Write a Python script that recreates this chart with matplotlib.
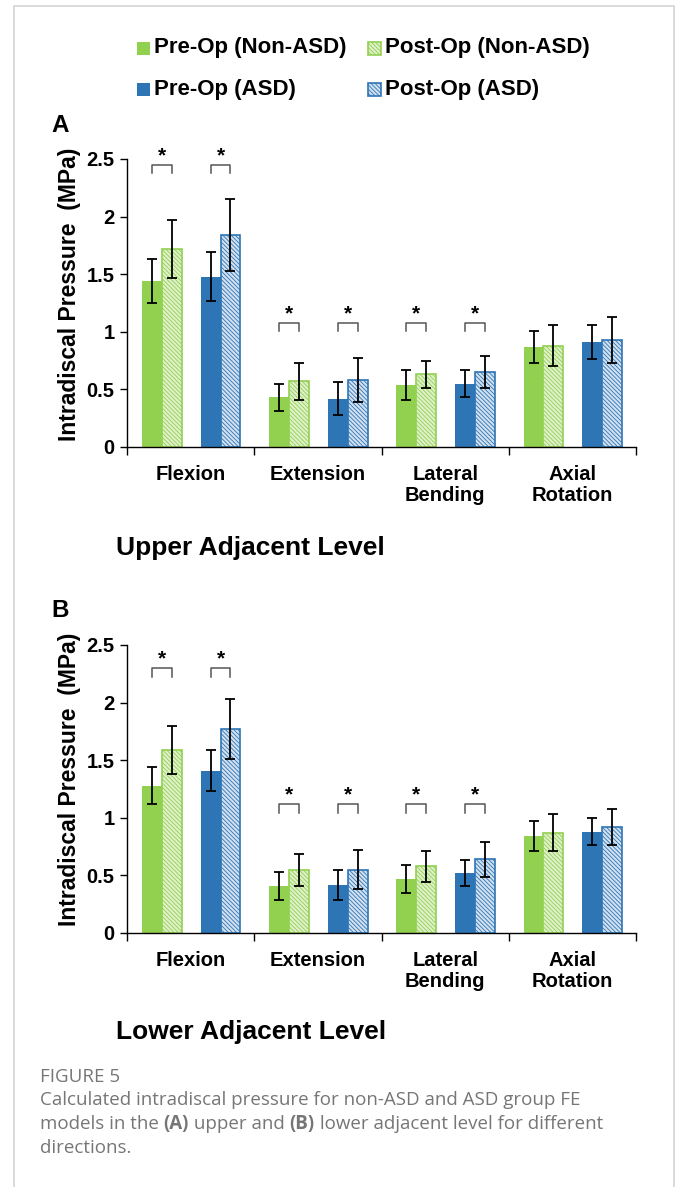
import matplotlib
matplotlib.use('Agg')
import matplotlib.pyplot as plt
from matplotlib.patches import Rectangle
import numpy as np

plt.rcParams['font.family'] = ['Liberation Sans', 'DejaVu Sans']
plt.rcParams['hatch.linewidth'] = 0.6

# motion directions
directions = ['Flexion', 'Extension', 'Lateral\nBending', 'Axial\nRotation']
series = ['Pre-Op (Non-ASD)', 'Post-Op (Non-ASD)', 'Pre-Op (ASD)', 'Post-Op (ASD)']

# upper adjacent level (MPa): means and SD
upper_pre_non = [1.44, 0.43, 0.54, 0.87]
upper_post_non = [1.72, 0.57, 0.63, 0.88]
upper_pre_asd = [1.48, 0.42, 0.55, 0.91]
upper_post_asd = [1.84, 0.58, 0.65, 0.93]
upper_sd_pre_non = [0.19, 0.12, 0.13, 0.14]
upper_sd_post_non = [0.25, 0.16, 0.12, 0.18]
upper_sd_pre_asd = [0.21, 0.14, 0.115, 0.15]
upper_sd_post_asd = [0.31, 0.19, 0.14, 0.20]

# lower adjacent level (MPa): means and SD
lower_pre_non = [1.28, 0.41, 0.47, 0.84]
lower_post_non = [1.59, 0.55, 0.58, 0.87]
lower_pre_asd = [1.41, 0.42, 0.52, 0.88]
lower_post_asd = [1.77, 0.55, 0.64, 0.92]
lower_sd_pre_non = [0.16, 0.12, 0.12, 0.13]
lower_sd_post_non = [0.21, 0.14, 0.135, 0.16]
lower_sd_pre_asd = [0.18, 0.13, 0.115, 0.12]
lower_sd_post_asd = [0.26, 0.17, 0.15, 0.16]

# significant pre/post pairs: (direction index, group 0=non-ASD 1=ASD)
sig_pairs = [(0, 0), (0, 1), (1, 0), (1, 1), (2, 0), (2, 1)]
upper_bracket_y = [2.45, 1.08, 1.08]
lower_bracket_y = [2.30, 1.12, 1.12]

GREEN = '#92D050'
BLUE = '#2E75B6'
GREEN_PALE = '#dff0cb'
BLUE_PALE = '#d3e1ef'
HATCH = '\\\\\\\\\\\\\\\\'

offsets = [0.195, 0.351, 0.657, 0.813]
width = 0.156

fig = plt.figure(figsize=(6.8, 11.87), dpi=100)
W, H = 680, 1187


def fx(px):
    return px / W


def fy(py):
    return 1 - py / H


def style(k):
    color = GREEN if k < 2 else BLUE
    if k % 2 == 0:
        return dict(facecolor=color, edgecolor=color, linewidth=0)
    pale = GREEN_PALE if k < 2 else BLUE_PALE
    return dict(facecolor=pale, edgecolor=color, linewidth=1.2, hatch=HATCH)


def panel(ax, means, sds, bracket_y, label_y):
    x0 = np.arange(len(directions))
    for k in range(4):
        xs = x0 + offsets[k]
        ax.bar(xs, means[k], width, zorder=2, **style(k))
        ax.errorbar(xs, means[k], yerr=sds[k], fmt='none', ecolor='black',
                    elinewidth=1.3, capsize=3.4, capthick=1.3, zorder=3)
    # significance brackets
    for d, g in sig_pairs:
        xa = d + offsets[2 * g]
        xb = d + offsets[2 * g + 1]
        yb = bracket_y[d]
        ax.plot([xa, xa, xb, xb], [yb - 0.075, yb, yb, yb - 0.075],
                color='#555555', lw=1.1, zorder=3, clip_on=False)
        ax.text((xa + xb) / 2, yb - 0.005, '*', ha='center', va='bottom',
                fontsize=15, fontweight='bold')
    ax.set_xlim(0, 4)
    ax.set_ylim(0, 2.5)
    ax.set_yticks([0, 0.5, 1, 1.5, 2, 2.5])
    ax.set_yticklabels(['0', '0.5', '1', '1.5', '2', '2.5'])
    ax.set_xticks(np.arange(5))
    ax.set_xticklabels([])
    ax.set_xticks(x0 + 0.5, minor=True)
    ax.set_xticklabels(directions, minor=True, fontsize=14.5, fontweight='bold',
                       linespacing=1.12)
    ax.tick_params(axis='x', which='minor', length=0, pad=13)
    ax.tick_params(axis='x', which='major', length=6, width=1, direction='out')
    ax.tick_params(axis='y', length=5, width=1, direction='out', pad=4,
                   labelsize=14.5)
    for lab in ax.get_yticklabels():
        lab.set_fontweight('bold')
    ax.spines['top'].set_visible(False)
    ax.spines['right'].set_visible(False)
    ax.spines['left'].set_linewidth(1)
    ax.spines['bottom'].set_linewidth(1)
    ax.set_ylabel('Intradiscal Pressure  (MPa)', fontsize=16.5, fontweight='bold')
    ax.yaxis.set_label_coords(-0.09, label_y)


upper_means = [upper_pre_non, upper_post_non, upper_pre_asd, upper_post_asd]
upper_sds = [upper_sd_pre_non, upper_sd_post_non, upper_sd_pre_asd, upper_sd_post_asd]
lower_means = [lower_pre_non, lower_post_non, lower_pre_asd, lower_post_asd]
lower_sds = [lower_sd_pre_non, lower_sd_post_non, lower_sd_pre_asd, lower_sd_post_asd]

ax_a = fig.add_axes([fx(127), fy(447), fx(636) - fx(127), fy(159) - fy(447)])
panel(ax_a, upper_means, upper_sds, upper_bracket_y, 0.53)
ax_b = fig.add_axes([fx(127), fy(933), fx(636) - fx(127), fy(645) - fy(933)])
panel(ax_b, lower_means, lower_sds, lower_bracket_y, 0.535)

# panel letters and level titles
fig.text(fx(51), fy(132), 'A', fontsize=17.5, fontweight='bold', va='baseline')
fig.text(fx(51), fy(617), 'B', fontsize=17.5, fontweight='bold', va='baseline')
fig.text(fx(116), fy(555), 'Upper Adjacent Level', fontsize=19,
         fontweight='bold', va='baseline')
fig.text(fx(116), fy(1039), 'Lower Adjacent Level', fontsize=19,
         fontweight='bold', va='baseline')

# legend
legend_pos = [(137, 48), (368, 48), (137, 89), (368, 89)]
for k, (lx, ly) in enumerate(legend_pos):
    fig.patches.append(Rectangle((fx(lx), fy(ly + 6.5)), fx(13), 13 / H,
                                 transform=fig.transFigure, **style(k)))
    fig.text(fx(lx + 17), fy(ly), series[k], fontsize=16, fontweight='bold',
             va='center')

# caption
cap_color = '#767676'
cap_font = ['Open Sans', 'DejaVu Sans']
cap_size = 13.5
fig.text(fx(40), fy(1077), 'FIGURE 5', fontsize=cap_size, color=cap_color,
         family=cap_font, va='center')
fig.text(fx(40), fy(1100),
         'Calculated intradiscal pressure for non-ASD and ASD group FE',
         fontsize=cap_size, color=cap_color, family=cap_font, va='center')
fig.text(fx(40), fy(1148), 'directions.', fontsize=cap_size, color=cap_color,
         family=cap_font, va='center')

# line with bold panel references
renderer = fig.canvas.get_renderer()
runs = [('models in the ', 'normal'), ('(A)', 'bold'), (' upper and ', 'normal'),
        ('(B)', 'bold'), (' lower adjacent level for different', 'normal')]
xpos = fx(40)
for txt, wt in runs:
    t = fig.text(xpos, fy(1124), txt, fontsize=cap_size, color=cap_color,
                 family=cap_font, fontweight=wt, va='center')
    bb = t.get_window_extent(renderer)
    xpos += bb.width / W

# page frame
fig.patches.append(Rectangle((fx(14), -0.05), fx(660), fy(6) + 0.05,
                             transform=fig.transFigure, fill=False,
                             edgecolor='#d4d4d4', linewidth=1.2))

fig.savefig('out.png', dpi=100)
